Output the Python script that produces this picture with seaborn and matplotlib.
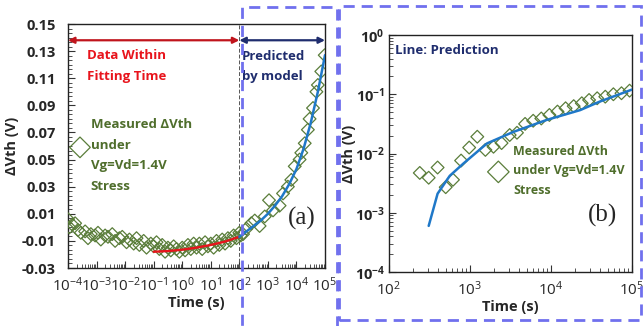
import numpy as np
import pandas as pd
import matplotlib
matplotlib.use("Agg")
import matplotlib.pyplot as plt
from matplotlib.patches import Rectangle
from matplotlib.ticker import LogLocator, MultipleLocator, NullFormatter
import seaborn as sns

# ---------------- data ----------------
# panel (a): measured dVth vs log10(time)
a_logt = [-4.0, -3.95, -3.85, -3.75, -3.65, -3.55, -3.4, -3.3, -3.2, -3.05, -2.95, -2.85,
          -2.7, -2.6, -2.45, -2.35, -2.2, -2.1, -1.95, -1.85, -1.7, -1.6, -1.5, -1.35,
          -1.25, -1.1, -1.0, -0.9, -0.8, -0.7, -0.6, -0.5, -0.4, -0.3, -0.2, -0.1, 0.0,
          0.1, 0.2, 0.3, 0.4, 0.5, 0.6, 0.7, 0.8, 0.9, 1.0, 1.1, 1.2, 1.3, 1.4, 1.5, 1.6,
          1.7, 1.8, 1.9, 2.0, 2.05,
          2.13, 2.25, 2.42, 2.54, 2.71, 2.89, 3.04, 3.18, 3.41, 3.53, 3.70, 3.82, 3.94,
          4.11, 4.17, 4.29, 4.40, 4.46, 4.58, 4.70, 4.75, 4.87, 4.99]
a_dvth = [0.006, 0.000, 0.002, 0.003, -0.002, -0.004, -0.003, -0.008, -0.005, -0.006, -0.004,
          -0.009, -0.006, -0.007, -0.005, -0.010, -0.008, -0.007, -0.011, -0.009, -0.012,
          -0.008, -0.013, -0.010, -0.015, -0.012, -0.014, -0.011, -0.016, -0.013, -0.018,
          -0.015, -0.017, -0.014, -0.016, -0.018, -0.015, -0.017, -0.013, -0.016, -0.012,
          -0.015, -0.012, -0.016, -0.011, -0.014, -0.012, -0.015, -0.010, -0.013, -0.009,
          -0.012, -0.008, -0.010, -0.006, -0.008, -0.004, -0.006,
          -0.005, -0.001, 0.003, 0.005, 0.001, 0.008, 0.020, 0.0125, 0.016, 0.025, 0.030,
          0.035, 0.045, 0.050, 0.055, 0.062, 0.072, 0.080, 0.088, 0.100, 0.105, 0.115, 0.127]
# fit line (red) within fitting time
fit_logt = [-1.0, -0.5, 0.0, 0.5, 1.0, 1.5, 2.0]
fit_dvth = [-0.018, -0.0175, -0.0165, -0.015, -0.013, -0.0105, -0.007]
# prediction line (blue)
pred_logt = [2.0, 2.25, 2.5, 2.75, 3.0, 3.25, 3.5, 3.75, 4.0, 4.25, 4.5, 4.75, 5.0]
pred_dvth = [-0.007, -0.003, 0.001, 0.005, 0.010, 0.016, 0.023, 0.032, 0.043, 0.058,
             0.077, 0.100, 0.127]

# panel (b)
b_logt = [2.38, 2.49, 2.60, 2.70, 2.79, 2.89, 2.99, 3.09, 3.19, 3.29, 3.39, 3.49, 3.58,
          3.68, 3.78, 3.88, 3.98, 4.08, 4.18, 4.28, 4.38, 4.47, 4.57, 4.67, 4.77, 4.87, 4.97]
b_dvth = [0.0047, 0.0039, 0.0058, 0.0027, 0.0036, 0.0076, 0.0126, 0.0192, 0.0115, 0.013,
          0.015, 0.0205, 0.0224, 0.0316, 0.0357, 0.039, 0.0447, 0.051, 0.058, 0.063, 0.0705,
          0.080, 0.0855, 0.091, 0.100, 0.104, 0.115]
bline_logt = [2.49, 2.60, 2.75, 2.92, 3.21, 3.53, 3.95, 4.36, 4.60, 5.0]
bline_dvth = [0.0006, 0.0021, 0.0042, 0.0068, 0.0148, 0.023, 0.037, 0.054, 0.075, 0.12]

a_yticks = [-0.03, -0.01, 0.01, 0.03, 0.05, 0.07, 0.09, 0.11, 0.13, 0.15]
a_yticklabels = ["-0.03", "-0.01", "0.01", "0.03", "0.05", "0.07", "0.09", "0.11", "0.13", "0.15"]

# ---------------- style ----------------
sns.set_theme(style="white")
plt.rcParams['font.family'] = ['Open Sans', 'DejaVu Sans']
plt.rcParams['mathtext.fontset'] = 'custom'
plt.rcParams['mathtext.rm'] = 'Open Sans:bold'
plt.rcParams['mathtext.it'] = 'Open Sans:bold:italic'
plt.rcParams['mathtext.bf'] = 'Open Sans:bold'

GREEN = "#5a7d3a"
GREEN_TXT = "#4f6e2c"
BLUE = "#1f78c8"
NAVY = "#1f2d6e"
RED = "#e8141c"
DASH = "#7070ee"

fig = plt.figure(figsize=(6.43, 3.26), dpi=100)
W, H = 643, 326

def ax_rect(x0, y0, x1, y1):
    return [x0 / W, 1 - y1 / H, (x1 - x0) / W, (y1 - y0) / H]

axa = fig.add_axes(ax_rect(68, 24, 325, 268))
axb = fig.add_axes(ax_rect(389, 35, 632, 272))

dfa = pd.DataFrame({"t": 10 ** np.array(a_logt), "v": a_dvth})
dff = pd.DataFrame({"t": 10 ** np.array(fit_logt), "v": fit_dvth})
dfp = pd.DataFrame({"t": 10 ** np.array(pred_logt), "v": pred_dvth})
dfb = pd.DataFrame({"t": 10 ** np.array(b_logt), "v": b_dvth})
dfbl = pd.DataFrame({"t": 10 ** np.array(bline_logt), "v": bline_dvth})

mk = dict(marker="D", s=42, facecolor="none", edgecolor=GREEN, linewidth=0.9, zorder=3)

# ---- panel (a)
sns.scatterplot(data=dfa, x="t", y="v", ax=axa, **mk)
sns.lineplot(data=dff, x="t", y="v", ax=axa, color=RED, lw=1.7, zorder=4)
sns.lineplot(data=dfp, x="t", y="v", ax=axa, color=BLUE, lw=1.8, zorder=4)
axa.set_xscale("log")
axa.set_xlim(1e-4, 1e5)
axa.set_ylim(-0.03, 0.15)
axa.set_yticks(a_yticks)
axa.set_yticklabels(a_yticklabels)
axa.yaxis.set_minor_locator(MultipleLocator(0.02 / 6))
axa.xaxis.set_major_locator(LogLocator(base=10, numticks=20))
axa.xaxis.set_minor_locator(LogLocator(base=10, subs=np.arange(2, 10), numticks=100))
axa.xaxis.set_minor_formatter(NullFormatter())
axa.axvline(1e2, color="#555555", lw=0.7, ls=(0, (4, 2)), zorder=2)

axa.annotate("", xy=(1e-4, 0.138), xytext=(1e2, 0.138),
             arrowprops=dict(arrowstyle="<|-|>", color="#c0141c", lw=1.6,
                             mutation_scale=9, shrinkA=0, shrinkB=0))
axa.annotate("", xy=(1e2, 0.138), xytext=(1e5, 0.138),
             arrowprops=dict(arrowstyle="<|-|>", color=NAVY, lw=1.6,
                             mutation_scale=9, shrinkA=0, shrinkB=0))
axa.text(10 ** -3.34, 0.119, "Data Within\nFitting Time", color=RED, fontsize=9.5,
         fontweight="bold", va="center", ha="left", linespacing=1.75)
axa.text(10 ** 2.08, 0.1187, "Predicted\nby model", color=NAVY, fontsize=9.5,
         fontweight="bold", va="center", ha="left", linespacing=1.75)
axa.text(10 ** -3.2, 0.053, "Measured ΔVth\nunder\nVg=Vd=1.4V\nStress", color=GREEN_TXT,
         fontsize=9.5, fontweight="bold", va="center", ha="left", linespacing=1.75)
axa.scatter([10 ** -3.58], [0.059], marker="D", s=110, facecolor="none",
            edgecolor=GREEN, linewidth=0.9, zorder=3)
axa.text(10 ** 4.18, 0.0069, "(a)", fontsize=18, family="Liberation Serif",
         fontweight="normal", va="center", ha="center")

# ---- panel (b)
sns.scatterplot(data=dfb, x="t", y="v", ax=axb, **mk)
sns.lineplot(data=dfbl, x="t", y="v", ax=axb, color=BLUE, lw=1.8, zorder=4)
axb.set_xscale("log")
axb.set_yscale("log")
axb.set_xlim(1e2, 1e5)
axb.set_ylim(1e-4, 1e0)
axb.xaxis.set_major_locator(LogLocator(base=10, numticks=20))
axb.xaxis.set_minor_locator(LogLocator(base=10, subs=np.arange(2, 10), numticks=100))
axb.yaxis.set_major_locator(LogLocator(base=10, numticks=20))
axb.yaxis.set_minor_locator(LogLocator(base=10, subs=np.arange(2, 10), numticks=100))
axb.xaxis.set_minor_formatter(NullFormatter())
axb.yaxis.set_minor_formatter(NullFormatter())
axb.text(10 ** 2.074, 0.558, "Line: Prediction", color=NAVY, fontsize=9.5, fontweight="bold",
         va="center", ha="left")
axb.text(10 ** 3.53, 10 ** -2.295, "Measured ΔVth\nunder Vg=Vd=1.4V\nStress", color=GREEN_TXT,
         fontsize=9, fontweight="bold", va="center", ha="left", linespacing=1.65)
axb.scatter([10 ** 3.35], [10 ** -2.31], marker="D", s=120, facecolor="none",
            edgecolor=GREEN, linewidth=0.9, zorder=3)
axb.text(10 ** 4.64, 10 ** -3.05, "(b)", fontsize=18, family="Liberation Serif",
         va="center", ha="center")

for ax, ypad, ylp in ((axa, 9, 2), (axb, 3, -1)):
    for s in ax.spines.values():
        s.set_color("#222222")
        s.set_linewidth(1.0)
    ax.tick_params(which="major", direction="in", length=5, width=0.8, color="#333333",
                   labelsize=10.5)
    ax.tick_params(axis="x", which="major", labelsize=11, pad=6)
    ax.tick_params(axis="y", which="major", pad=ypad)
    ax.tick_params(which="minor", direction="in", length=3, width=0.6, color="#333333")
    ax.tick_params(axis="y", which="both", left=True, right=False)
    ax.tick_params(axis="x", which="both", bottom=True, top=False)
    ax.set_xlabel("Time (s)", fontsize=10.5, fontweight="bold", labelpad=1)
    ax.set_ylabel("ΔVth (V)", fontsize=10.5, fontweight="bold", labelpad=ylp)
    for lab in ax.get_yticklabels():
        lab.set_fontweight("bold")

# dashed boxes (figure coordinates)
r1 = Rectangle((242 / W, 1 - 332 / H), (337 - 242) / W, (332 - 7) / H, transform=fig.transFigure,
               fill=False, edgecolor=DASH, lw=2, ls=(0, (4, 2.5)), zorder=10)
r2 = Rectangle((339 / W, 1 - 320 / H), (641 - 339) / W, (320 - 6) / H, transform=fig.transFigure,
               fill=False, edgecolor=DASH, lw=2, ls=(0, (4, 2.5)), zorder=10)
fig.patches.extend([r1, r2])

fig.savefig("out.png", dpi=100)
